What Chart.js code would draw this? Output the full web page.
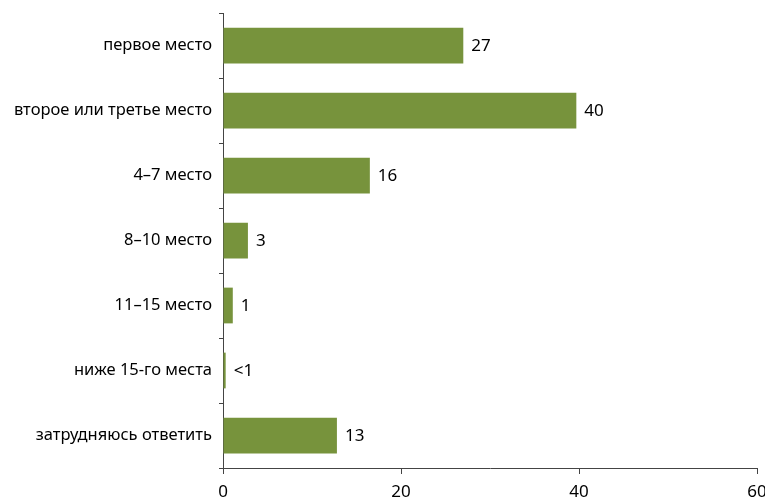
<!DOCTYPE html>
<html>
<head>
<meta charset="utf-8">
<script src="https://cdn.jsdelivr.net/npm/chart.js@4"></script>
<style>
  html, body { margin: 0; padding: 0; background: #fff; }
  #wrap { width: 765px; height: 502px; position: relative; }
</style>
</head>
<body>
<div id="wrap"><canvas id="c" width="765" height="502"></canvas></div>
<script>
const categories = ["первое место", "второе или третье место", "4–7 место", "8–10 место", "11–15 место", "ниже 15-го места", "затрудняюсь ответить"];
const values = [27, 39.7, 16.5, 2.8, 1.1, 0.3, 12.8];
const valueLabels = ["27", "40", "16", "3", "1", "<1", "13"];
const xTicks = [0, 20, 40, 60];

const FONT = "'Noto Sans', sans-serif";

const dataLabelPlugin = {
  id: 'dataLabels',
  afterDatasetsDraw(chart) {
    const ctx = chart.ctx;
    const meta = chart.getDatasetMeta(0);
    ctx.save();
    ctx.font = "17px " + FONT;
    ctx.fillStyle = "#000";
    ctx.textAlign = "left";
    ctx.textBaseline = "middle";
    meta.data.forEach((bar, i) => {
      ctx.fillText(valueLabels[i], bar.x + 8, bar.y + 1);
    });
    ctx.restore();
  }
};

new Chart(document.getElementById('c'), {
  type: 'bar',
  data: {
    labels: categories,
    datasets: [{
      data: values,
      backgroundColor: '#77933C',
      borderWidth: 0,
      barPercentage: 0.55,
      categoryPercentage: 1.0
    }]
  },
  options: {
    indexAxis: 'y',
    responsive: false,
    animation: false,
    devicePixelRatio: 1,
    layout: { padding: { top: 13, right: 8, left: 0, bottom: 0 } },
    plugins: { legend: { display: false }, tooltip: { enabled: false } },
    scales: {
      x: {
        min: 0, max: 60,
        afterBuildTicks(scale) { scale.ticks = xTicks.map(v => ({ value: v })); },
        afterFit(scale) { scale.height = 34; scale.paddingLeft = 0; scale.paddingRight = 0; },
        grid: { drawOnChartArea: false, tickLength: 6, color: '#444', tickColor: '#444' },
        border: { color: '#444', width: 1 },
        ticks: { font: { family: FONT, size: 17 }, color: '#000', padding: 8, maxRotation: 0 }
      },
      y: {
        afterFit(scale) { scale.width = 223; scale.paddingTop = 0; scale.paddingBottom = 0; },
        grid: { drawOnChartArea: false, offset: true, tickLength: 4, color: '#444', tickColor: '#444' },
        border: { color: '#444', width: 1 },
        ticks: { font: { family: FONT, size: 16.5 }, color: '#000', padding: 7 }
      }
    }
  },
  plugins: [dataLabelPlugin]
});
</script>
</body>
</html>
